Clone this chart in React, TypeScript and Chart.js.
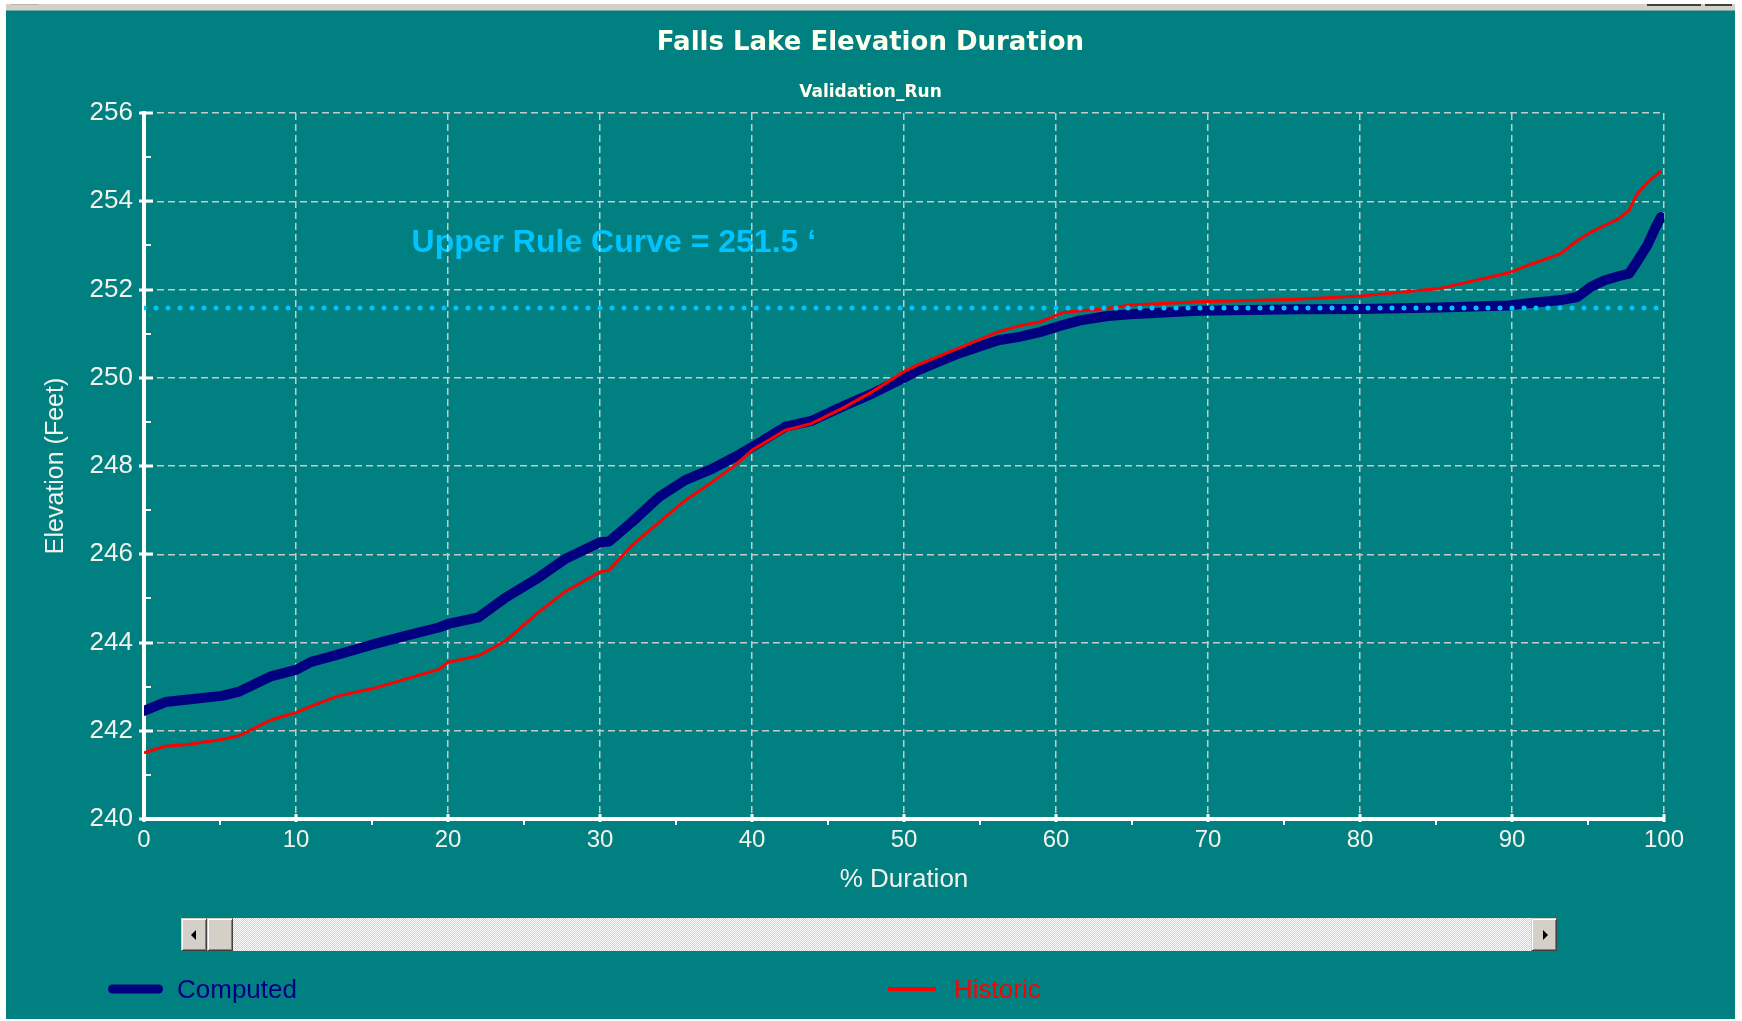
import React, { useEffect, useRef } from "react";
import { Chart, registerables } from "chart.js";

Chart.register(...registerables);

// ---- data ----
const duration = [0, 1.4, 2.9, 5.1, 6.2, 8.4, 10, 11, 12.8, 15, 17.2, 19.4, 20, 22, 23.8, 26, 27.7, 30, 30.6, 32.1, 33.9, 35.6, 37.4, 38.9, 40, 42.2, 43.9, 45.9, 47.9, 50, 50.9, 53.6, 56.2, 57.5, 59, 60.5, 61.6, 63.4, 64.9, 67.1, 69.3, 71.5, 75.9, 80, 85.2, 89.8, 91.4, 93.2, 94.3, 95.2, 96.1, 97, 97.7, 98.2, 98.9, 99.5, 99.8];

const computed = [242.45, 242.65, 242.71, 242.79, 242.88, 243.24, 243.38, 243.56, 243.73, 243.95, 244.15, 244.34, 244.42, 244.57, 245.02, 245.48, 245.89, 246.27, 246.29, 246.73, 247.3, 247.68, 247.94, 248.21, 248.43, 248.89, 249.02, 249.34, 249.64, 250.0, 250.17, 250.55, 250.85, 250.92, 251.04, 251.2, 251.3, 251.4, 251.44, 251.48, 251.52, 251.53, 251.55, 251.56, 251.59, 251.64, 251.7, 251.76, 251.83, 252.06, 252.21, 252.3, 252.36, 252.62, 253.0, 253.45, 253.64];

const historic = [241.5, 241.65, 241.69, 241.8, 241.88, 242.25, 242.41, 242.56, 242.79, 242.95, 243.17, 243.39, 243.55, 243.7, 244.04, 244.7, 245.15, 245.6, 245.64, 246.2, 246.73, 247.22, 247.64, 248.02, 248.36, 248.81, 248.96, 249.3, 249.68, 250.14, 250.29, 250.67, 251.04, 251.17, 251.27, 251.48, 251.52, 251.57, 251.65, 251.68, 251.72, 251.74, 251.78, 251.85, 252.02, 252.38, 252.59, 252.81, 253.11, 253.3, 253.45, 253.6, 253.79, 254.15, 254.42, 254.6, 254.69];

const ruleCurve = 251.58;
const ruleSpan = [0, 100];
const ruleLabel = "Upper Rule Curve = 251.5 \u2018";
const ruleLabelAt = { x: 17.6, y: 252.84 };

const xRange = { min: 0, max: 100, step: 10, minor: 5 };
const yRange = { min: 240, max: 256, step: 2, minor: 1 };

const titleText = "Falls Lake Elevation Duration";
const subtitleText = "Validation_Run";
const xTitle = "% Duration";
const yTitle = "Elevation (Feet)";
const seriesNames = ["Computed", "Historic"];

// ---- styles ----
const TEAL = "#008080";
const NAVY = "#000080";
const RED = "#ff0000";
const CYAN = "#00c4ff";
const LABEL = "#f2f2ec";
const GRID = "#c8c8c8";

const overlayPlugin = {
  id: "overlay",
  beforeDraw(chart: any) {
    const { ctx, scales } = chart;
    ctx.save();
    ctx.fillStyle = CYAN;
    ctx.font = 'bold 32px "Liberation Sans", Arial, sans-serif';
    ctx.textAlign = "left";
    ctx.textBaseline = "alphabetic";
    ctx.fillText(ruleLabel, scales.x.getPixelForValue(ruleLabelAt.x), scales.y.getPixelForValue(ruleLabelAt.y));
    ctx.restore();
  },
  afterDraw(chart: any) {
    const { ctx, chartArea, scales } = chart;
    const xs = scales.x;
    const ys = scales.y;
    ctx.save();
    ctx.strokeStyle = "#ffffff";
    ctx.lineCap = "butt";
    const ax = chartArea.left;
    const ay = chartArea.bottom;
    const yn = Math.round((yRange.max - yRange.min) / yRange.minor);
    for (let i = 0; i <= yn; i++) {
      const v = yRange.min + i * yRange.minor;
      const p = Math.round(ys.getPixelForValue(v));
      const major = i % Math.round(yRange.step / yRange.minor) === 0;
      ctx.lineWidth = major ? 3 : 2;
      ctx.beginPath();
      ctx.moveTo(ax - (major ? 5 : 2), p);
      ctx.lineTo(ax + (major ? 9 : 7), p);
      ctx.stroke();
    }
    const xn = Math.round((xRange.max - xRange.min) / xRange.minor);
    for (let i = 0; i <= xn; i++) {
      const v = xRange.min + i * xRange.minor;
      const p = Math.round(xs.getPixelForValue(v));
      const major = i % Math.round(xRange.step / xRange.minor) === 0;
      ctx.lineWidth = major ? 3 : 2;
      ctx.beginPath();
      ctx.moveTo(p, ay - (major ? 5 : 0));
      ctx.lineTo(p, ay + (major ? 3 : 6));
      ctx.stroke();
    }

    // title + subtitle
    ctx.fillStyle = "#fffff0";
    ctx.textAlign = "center";
    ctx.textBaseline = "alphabetic";
    ctx.font = 'bold 26px "DejaVu Sans", sans-serif';
    ctx.fillText(titleText, chart.width / 2, 39);
    ctx.font = 'bold 17px "DejaVu Sans", sans-serif';
    ctx.fillText(subtitleText, chart.width / 2, 85.5);

    // legend
    ctx.textAlign = "left";
    ctx.font = '26px "Liberation Sans", Arial, sans-serif';
    ctx.strokeStyle = NAVY;
    ctx.lineWidth = 9;
    ctx.lineCap = "round";
    ctx.beginPath();
    ctx.moveTo(106.5, 978);
    ctx.lineTo(152.5, 978);
    ctx.stroke();
    ctx.fillStyle = NAVY;
    ctx.fillText(seriesNames[0], 171, 987);

    ctx.strokeStyle = RED;
    ctx.lineWidth = 4;
    ctx.lineCap = "butt";
    ctx.beginPath();
    ctx.moveTo(882, 978);
    ctx.lineTo(930, 978);
    ctx.stroke();
    ctx.fillStyle = RED;
    ctx.fillText(seriesNames[1], 948, 987);
    ctx.restore();
  },
};

function ChartPanel() {
  const ref = useRef<HTMLCanvasElement | null>(null);
  useEffect(() => {
    if (!ref.current) return;
    const chart = new Chart(ref.current, {
      type: "line",
      data: {
        datasets: [
          {
            label: seriesNames[0],
            data: duration.map((x, i) => ({ x, y: computed[i] })),
            borderColor: NAVY,
            borderWidth: 10,
            borderCapStyle: "round",
            borderJoinStyle: "round",
            pointRadius: 0,
            tension: 0,
            order: 3,
          },
          {
            label: seriesNames[1],
            data: duration.map((x, i) => ({ x, y: historic[i] })),
            borderColor: RED,
            borderWidth: 3,
            pointRadius: 0,
            tension: 0,
            order: 2,
          },
          {
            label: "Upper Rule Curve",
            data: ruleSpan.map((x) => ({ x, y: ruleCurve })),
            borderColor: CYAN,
            borderWidth: 5,
            borderDash: [0, 12],
            borderCapStyle: "round",
            pointRadius: 0,
            order: 1,
          },
        ],
      } as any,
      options: {
        animation: false,
        responsive: false,
        events: [],
        layout: { padding: { left: 0, right: 71, top: 102, bottom: 123.4 } },
        plugins: {
          legend: { display: false },
          tooltip: { enabled: false },
          title: { display: false },
        },
        scales: {
          x: {
            type: "linear",
            min: xRange.min,
            max: xRange.max,
            afterFit: (s: any) => {
              s.height = 76.6;
            },
            ticks: {
              stepSize: xRange.step,
              padding: 7,
              color: LABEL,
              font: { family: '"Liberation Sans", Arial, sans-serif', size: 24 },
            },
            grid: { color: GRID, lineWidth: 1.5, drawTicks: false, borderDash: [7, 4] },
            border: { display: true, color: "#ffffff", width: 4, dash: [7, 4] },
            title: {
              display: true,
              text: xTitle,
              color: LABEL,
              font: { family: '"Liberation Sans", Arial, sans-serif', size: 26 },
              padding: { top: 0, bottom: 0 },
            },
          },
          y: {
            type: "linear",
            min: yRange.min,
            max: yRange.max,
            afterFit: (s: any) => {
              s.width = 138;
            },
            ticks: {
              stepSize: yRange.step,
              padding: 11,
              color: LABEL,
              font: { family: '"Liberation Sans", Arial, sans-serif', size: 26 },
            },
            grid: { color: GRID, lineWidth: 1.5, drawTicks: false, borderDash: [7, 4] },
            border: { display: true, color: "#ffffff", width: 4, dash: [7, 4] },
            title: {
              display: true,
              text: yTitle,
              color: LABEL,
              font: { family: '"Liberation Sans", Arial, sans-serif', size: 25 },
              padding: { top: 35, bottom: 0 },
            },
          },
        },
      } as any,
      plugins: [overlayPlugin],
    });
    return () => chart.destroy();
  }, []);
  return <canvas ref={ref} width={1729} height={1008} style={{ width: 1729, height: 1008, display: "block" }} />;
}

function ScrollButton({ left, arrow }: { left: number; arrow?: "left" | "right" }) {
  return (
    <div
      style={{
        position: "absolute",
        left,
        top: 0,
        width: 26,
        height: 33,
        boxSizing: "border-box",
        background: "#d4d0c8",
        borderTop: "1px solid #d4d0c8",
        borderLeft: "1px solid #d4d0c8",
        borderRight: "1px solid #404040",
        borderBottom: "1px solid #404040",
        boxShadow: "inset 1px 1px #ffffff, inset -1px -1px #808080",
      }}
    >
      {arrow && (
        <div
          style={{
            position: "absolute",
            left: arrow === "left" ? 9 : 11,
            top: 11,
            width: 0,
            height: 0,
            borderTop: "5px solid transparent",
            borderBottom: "5px solid transparent",
            borderRight: arrow === "left" ? "5px solid #000" : undefined,
            borderLeft: arrow === "right" ? "5px solid #000" : undefined,
          }}
        />
      )}
    </div>
  );
}

export default function App() {
  return (
    <div
      style={{
        position: "absolute",
        left: 0,
        top: 0,
        width: 1742,
        height: 1021,
        background: "#ffffff",
        overflow: "hidden",
      }}
    >
      <div style={{ position: "absolute", left: 6, top: 4, width: 1729, height: 6, background: "#d4d0c8" }} />
      <div style={{ position: "absolute", left: 11, top: 4, width: 27, height: 1, background: "#b8b4ac" }} />
      <div style={{ position: "absolute", left: 1647, top: 4, width: 54, height: 2, background: "#404040" }} />
      <div style={{ position: "absolute", left: 1705, top: 4, width: 27, height: 2, background: "#404040" }} />
      <div style={{ position: "absolute", left: 6, top: 10, width: 1729, height: 1, background: "#6fa8a4" }} />
      <div style={{ position: "absolute", left: 6, top: 11, width: 1729, height: 1008, background: TEAL }}>
        <ChartPanel />
      </div>
      <div style={{ position: "absolute", left: 181, top: 918, width: 1376, height: 33 }}>
        <div
          style={{
            position: "absolute",
            left: 0,
            top: 0,
            width: 1376,
            height: 33,
            background: "repeating-conic-gradient(#ffffff 0% 25%, #d4d0c8 0% 50%) 0 0 / 2px 2px",
          }}
        />
        <ScrollButton left={0} arrow="left" />
        <ScrollButton left={26} />
        <ScrollButton left={1350} arrow="right" />
      </div>
    </div>
  );
}
